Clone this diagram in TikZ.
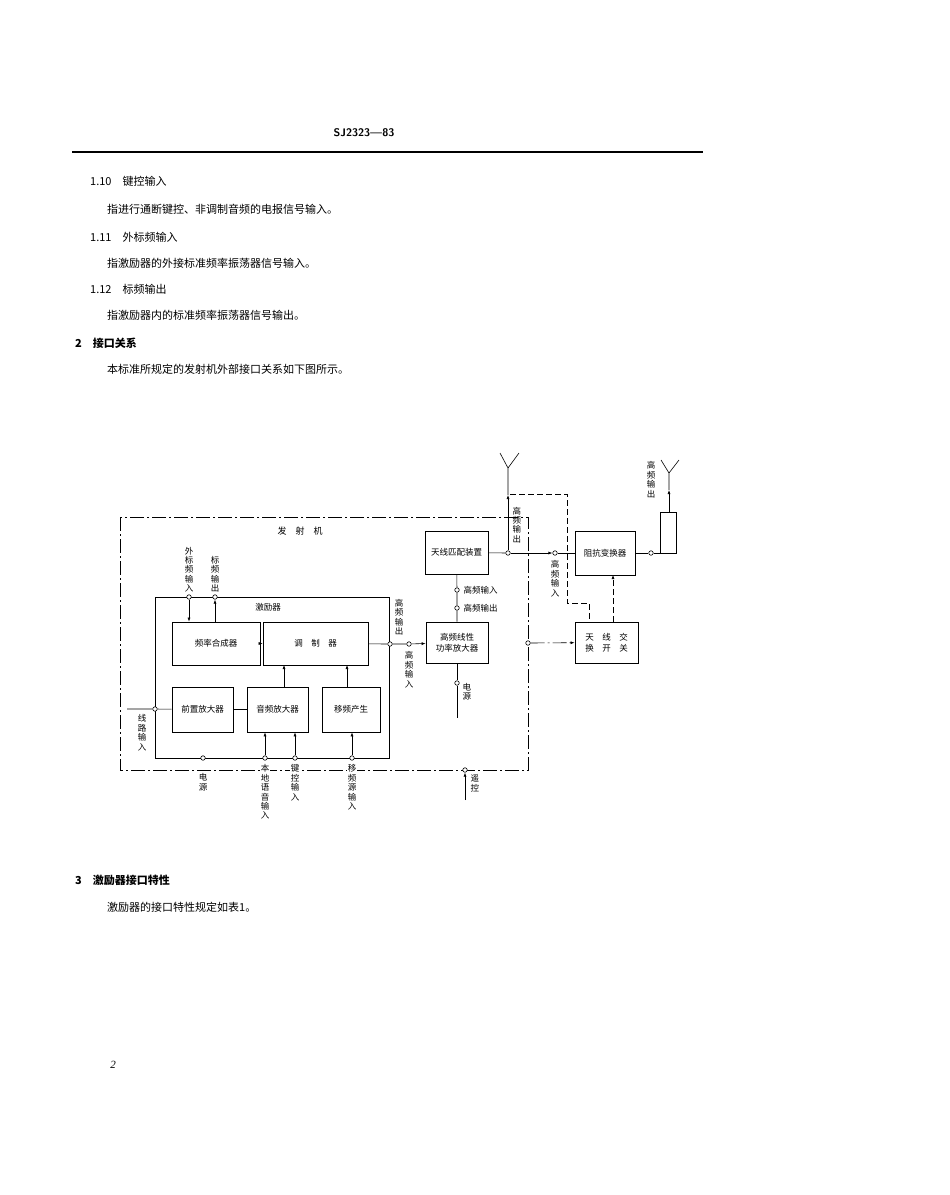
\documentclass[tikz,border=0pt]{standalone}
\usepackage{fontspec}
\setmainfont{Liberation Serif}
\newfontfamily\cjk{Noto Sans CJK SC}
\usetikzlibrary{arrows.meta}
\begin{document}
\begin{tikzpicture}[x=1pt,y=-1pt,
  txt/.style={anchor=west,font=\cjk\fontsize{11}{13}\selectfont,inner sep=0},
  bx/.style={draw,line width=0.8pt,font=\cjk\fontsize{8.5}{11}\selectfont,align=center,inner sep=0},
  lb/.style={font=\cjk\fontsize{8.5}{9.4}\selectfont,align=center,inner sep=0.5pt,fill=white},
  pt/.style={circle,draw,fill=white,inner sep=0,minimum size=4.5pt,line width=0.6pt},
  ln/.style={line width=0.6pt},
  ar/.style={ln,-{Latex[length=4pt,width=3pt]}},
  dd/.style={ln,dash pattern=on 14pt off 3pt on 2pt off 3pt},
  ds/.style={ln,dash pattern=on 6pt off 3pt}]
\useasboundingbox (0,0) rectangle (950,1195);
% header
\node[font=\sffamily\bfseries\fontsize{11}{13}\selectfont,inner sep=0] (hd) at (364,133) {SJ2323—83};
\draw[line width=1.3pt] (72,152) -- (703,152);
\node[txt] (t1) at (90,181) {1.10\quad 键控输入};
\node[txt] (t2) at (107,209) {指进行通断键控、非调制音频的电报信号输入。};
\node[txt] (t3) at (90,237) {1.11\quad 外标频输入};
\node[txt] (t4) at (107,263) {指激励器的外接标准频率振荡器信号输入。};
\node[txt] (t5) at (90,289) {1.12\quad 标频输出};
\node[txt] (t6) at (107,315) {指激励器内的标准频率振荡器信号输出。};
\node[txt,font=\cjk\bfseries\fontsize{11}{13}\selectfont] (s2) at (75,343) {2\quad 接口关系};
\node[txt] (t7) at (107,369) {本标准所规定的发射机外部接口关系如下图所示。};
\node[txt,font=\cjk\bfseries\fontsize{11}{13}\selectfont] (s3) at (75,880) {3\quad 激励器接口特性};
\node[txt] (t8) at (107,907) {激励器的接口特性规定如表1。};
\node[font=\itshape\fontsize{11}{13}\selectfont] (pg) at (113,1065) {2};
% outer transmitter box
\draw[dd] (120,517) rectangle (528,770);
\node[lb,font=\cjk\fontsize{9}{10}\selectfont] (tx) at (300,531) {发\quad 射\quad 机};
% exciter
\draw[ln,line width=0.8pt] (155,597) rectangle (389,758);
\node[lb] (ex) at (268,607) {激励器};
\node[bx,minimum width=88pt,minimum height=43pt] (syn) at (216,643.5) {频率合成器};
\node[bx,minimum width=105pt,minimum height=43pt] (mod) at (315.5,643.5) {调\quad 制\quad 器};
\node[bx,minimum width=61pt,minimum height=45pt] (pre) at (202.5,709.5) {前置放大器};
\node[bx,minimum width=61pt,minimum height=45pt] (aud) at (277.5,709.5) {音频放大器};
\node[bx,minimum width=58pt,minimum height=45pt] (fsk) at (351,709.5) {移频产生};
% top ports
\node[pt] (p1) at (189,597) {};
\node[pt] (p2) at (215,597) {};
\node[lb,anchor=south] (l1) at (189,593) {外\\标\\频\\输\\入};
\node[lb,anchor=south] (l2) at (215,593) {标\\频\\输\\出};
\draw[ar] (p1) -- (p1 |- syn.north);
\draw[ar] (p2 |- syn.north) -- (p2);
\draw[ar] (syn) -- (mod);
\draw[ar] (aud.north -| 284,0) -- (284,665);
\draw[ar] (fsk.north -| 347,0) -- (347,665);
\draw[ln] (pre) -- (aud);
% line input
\coordinate (li) at (127,709);
\node[pt] (p3) at (155,709) {};
\draw[ln] (li) -- (p3) -- (pre);
\node[lb,anchor=north,fill=none] (l3) at (142,714) {线\\路\\输\\入};
% bottom ports
\node[pt] (p4) at (203,758) {};
\node[lb,anchor=north] (l4) at (203,773) {电\\源};
\node[pt] (p5) at (265,758) {};
\node[lb,anchor=north] (l5) at (265,764) {本\\地\\语\\音\\输\\入};
\node[pt] (p6) at (295,758) {};
\node[lb,anchor=north] (l6) at (295,764) {键\\控\\输\\入};
\node[pt] (p7) at (352,758) {};
\node[lb,anchor=north] (l7) at (352,764) {移\\频\\源\\输\\入};
\draw[ar] (p5) -- (p5 |- aud.south);
\draw[ar] (p6) -- (p6 |- aud.south);
\draw[ar] (p7) -- (p7 |- fsk.south);
% RF chain
\node[pt] (p8) at (390,644) {};
\node[pt] (p9) at (409,644) {};
\node[bx,minimum width=62pt,minimum height=41pt] (pa) at (457,642.5) {高频线性\\功率放大器};
\node[bx,minimum width=63pt,minimum height=43pt] (atu) at (456.5,552.5) {天线匹配装置};
\draw[ln] (mod) -- (p8) -- (p9);
\draw[ar] (p9) -- (pa);
\node[lb,anchor=south,fill=none] (l8) at (399,636) {高\\频\\输\\出};
\node[lb,anchor=north,fill=none] (l9) at (409,651) {高\\频\\输\\入};
\node[pt] (p10) at (457,590) {};
\node[pt] (p11) at (457,608) {};
\draw[ln] (pa) -- (p11) -- (p10) -- (atu);
\node[lb,anchor=west,fill=none] (l10) at (463,590) {高频输入};
\node[lb,anchor=west,fill=none] (l11) at (463,608) {高频输出};
\node[pt] (p12) at (457,683) {};
\coordinate (pw) at (457,718);
\draw[ln] (pa) -- (p12) -- (pw);
\node[lb,anchor=west,fill=none] (l12) at (462,692) {电\\源};
% antenna 1
\node[pt] (p13) at (508,553) {};
\coordinate (a1) at (508,468);
\coordinate (a1l) at (500,453);
\coordinate (a1r) at (519,453);
\draw[ln] (atu) -- (p13);
\draw[ar] (p13) -- (508,495);
\draw[ln] (508,495) -- (a1) -- (a1l) (a1) -- (a1r);
\node[lb,anchor=west,fill=none] (l13) at (512,525) {高\\频\\输\\出};
% impedance transformer
\node[bx,minimum width=60pt,minimum height=44pt] (imp) at (605,553) {阻抗变换器};
\node[pt] (p14) at (555,553) {};
\draw[ar] (p13) -- (p14);
\draw[ln] (p14) -- (imp);
\node[lb,anchor=north,fill=none] (l14) at (555,560) {高\\频\\输\\入};
% switch
\node[bx,minimum width=63pt,minimum height=41pt] (sw) at (606.5,642.5) {天\quad 线\quad 交\\换\quad 开\quad 关};
\draw[ds] (510,494) -- (567,494) -- (567,603) -- (589,603) -- (589,622);
\draw[ds,-{Latex[length=4pt,width=3pt]}] (613,622) -- (613,575);
\node[pt] (p15) at (528,643) {};
\draw[dd,-{Latex[length=4pt,width=3pt]}] (p15) -- (sw);
% antenna 2
\node[pt] (p16) at (651,553) {};
\draw[ln] (imp) -- (p16) -- (676,553);
\node[draw,ln,minimum width=16pt,minimum height=41pt,inner sep=0] (ld) at (668,532.5) {};
\coordinate (a2) at (669,473);
\draw[ar] (ld.north -| 669,0) -- (669,490);
\draw[ln] (669,490) -- (a2) -- (661,460) (a2) -- (679,460);
\node[lb,anchor=north,fill=none] (l16) at (651,461) {高\\频\\输\\出};
% remote
\node[pt] (p17) at (465,770) {};
\coordinate (rc) at (465,800);
\draw[ar] (rc) -- (p17);
\node[lb,anchor=north west,fill=none] (l17) at (470,774) {遥\\控};
\end{tikzpicture}
\end{document}
